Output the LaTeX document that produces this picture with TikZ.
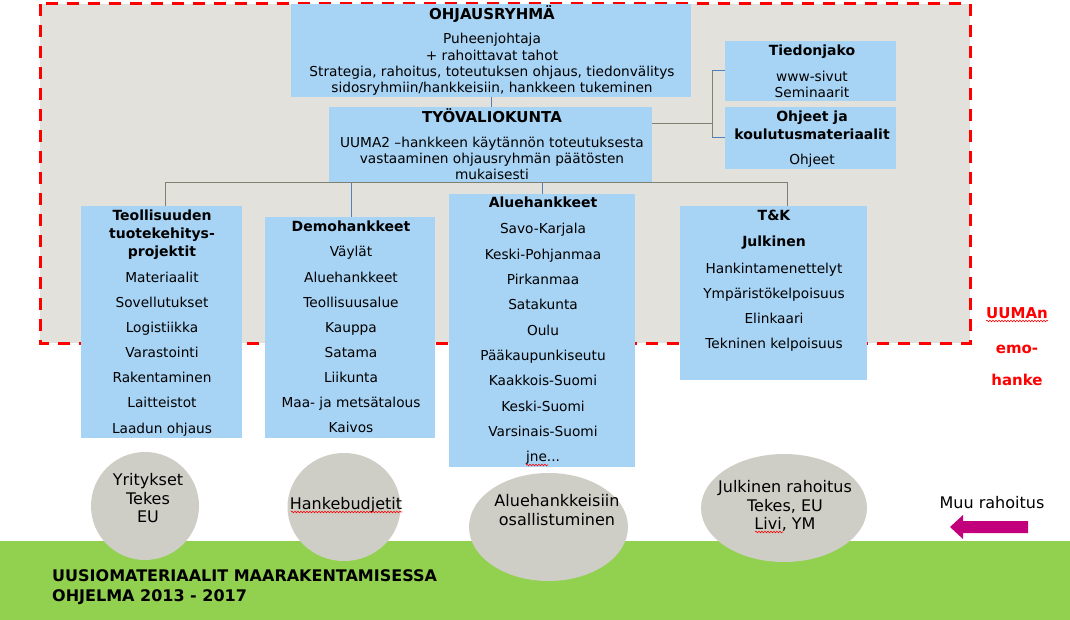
\documentclass[tikz,border=0pt]{standalone}
\usepackage{fontspec}
\setmainfont{DejaVu Sans}
\usetikzlibrary{shapes.geometric,decorations.pathmorphing}
\definecolor{boxblue}{HTML}{A7D3F4}
\definecolor{areagray}{HTML}{E2E1DC}
\definecolor{ellgray}{HTML}{CFCEC6}
\definecolor{grassgreen}{HTML}{92D050}
\definecolor{linegray}{HTML}{808070}
\definecolor{lineblue}{HTML}{4F81BD}
\definecolor{arrowmag}{HTML}{C3007B}
\definecolor{emored}{HTML}{FF0000}
\begin{document}
\begin{tikzpicture}[x=1pt,y=-1pt,
  box/.style={fill=boxblue, inner sep=0pt, outer sep=0pt},
  ell/.style={ellipse, fill=ellgray, inner sep=0pt, outer sep=0pt},
  txt/.style={inner sep=0pt, anchor=base, font=\fontsize{13.7}{16}\selectfont},
  ttl/.style={inner sep=0pt, anchor=base, font=\fontsize{14}{18}\selectfont\bfseries},
  capttl/.style={ttl, font=\fontsize{15}{18}\selectfont\bfseries},
  big/.style={inner sep=0pt, anchor=base, font=\fontsize{16}{19}\selectfont},
  redtxt/.style={inner sep=0pt, anchor=base, text=emored, font=\fontsize{15}{18}\selectfont\bfseries},
  progtxt/.style={inner sep=0pt, anchor=base west, font=\fontsize{16}{19}\selectfont\bfseries},
  gl/.style={draw=linegray, line width=1pt},
  bl/.style={draw=lineblue, line width=1pt},
  wavy/.style={draw=emored, line width=0.6pt, decorate, decoration={snake, segment length=3pt, amplitude=0.8pt}}
]
\useasboundingbox (0,0) rectangle (1070,620);
\fill[white] (0,0) rectangle (1070,620);

% parent project area
\fill[areagray] (40,4) rectangle (970,343);
\draw[emored, line width=3pt, dash pattern=on 12pt off 9pt] (40,4) rectangle (970,343);

% ground
\fill[grassgreen] (0,541) rectangle (1070,620);

% boxes
\node[box, minimum width=400pt, minimum height=93pt] (ohj) at (491,50.5) {};
\node[box, minimum width=323pt, minimum height=76pt] (tyo) at (490.5,145) {};
\node[box, minimum width=171pt, minimum height=60pt] (tied) at (810.5,71) {};
\node[box, minimum width=171pt, minimum height=62pt] (ohj2) at (810.5,138) {};
\node[box, minimum width=161pt, minimum height=232pt] (teol) at (161.5,322) {};
\node[box, minimum width=170pt, minimum height=221pt] (demo) at (350,327.5) {};
\node[box, minimum width=186pt, minimum height=273pt] (alue) at (542,330.5) {};
\node[box, minimum width=187pt, minimum height=174pt] (tk) at (773.5,293) {};

% connectors
\draw[bl] (ohj.south) -- (ohj.south |- tyo.north);
\coordinate (jn) at (712,124);
\draw[gl] ([yshift=21pt]tyo.east) -- (jn);
\draw[gl] (jn |- tied.west) -- (jn |- ohj2.west);
\draw[bl] (jn |- tied.west) -- (tied.west);
\draw[bl] (jn |- ohj2.west) -- (ohj2.west);
\draw[gl] ([xshift=3.5pt]teol.north) -- ([xshift=3.5pt]teol.north |- tyo.south)
          -- ([xshift=13.5pt]tk.north |- tyo.south) -- ([xshift=13.5pt]tk.north);
\draw[bl] ([xshift=1pt]demo.north) -- ([xshift=1pt]demo.north |- tyo.south);
\draw[bl] (alue.north) -- (alue.north |- tyo.south);

% OHJAUSRYHMÄ
\node[capttl] (o1) at (492,19.5) {OHJAUSRYHMÄ};
\node[txt] (o2) at (492,44) {Puheenjohtaja};
\node[txt] (o3) at (492,61) {+ rahoittavat tahot};
\node[txt] (o4) at (492,77) {Strategia, rahoitus, toteutuksen ohjaus, tiedonvälitys};
\node[txt] (o5) at (492,93) {sidosryhmiin/hankkeisiin, hankkeen tukeminen};

% TYÖVALIOKUNTA
\node[capttl] (t1) at (492,122.5) {TYÖVALIOKUNTA};
\node[txt] (t2) at (492,148) {UUMA2 –hankkeen käytännön toteutuksesta};
\node[txt] (t3) at (492,164) {vastaaminen ohjausryhmän päätösten};
\node[txt] (t4) at (492,180) {mukaisesti};

% Tiedonjako / Ohjeet
\node[ttl] (d1) at (812,56) {Tiedonjako};
\node[txt] (d2) at (812,82) {www-sivut};
\node[txt] (d3) at (812,98) {Seminaarit};
\node[ttl] (j1) at (812,122) {Ohjeet ja};
\node[ttl] (j2) at (812,140) {koulutusmateriaalit};
\node[txt] (j3) at (812,165) {Ohjeet};

% Teollisuuden tuotekehitysprojektit
\node[ttl] (a1) at (162,221) {Teollisuuden};
\node[ttl] (a2) at (162,239) {tuotekehitys-};
\node[ttl] (a3) at (162,257) {projektit};
\foreach \t [count=\i from 0] in {Materiaalit,Sovellutukset,Logistiikka,Varastointi,Rakentaminen,Laitteistot,Laadun ohjaus}
  \node[txt] (ai\i) at (162,{282+25.17*\i}) {\t};

% Demohankkeet
\node[ttl] (b1) at (351,232) {Demohankkeet};
\foreach \t [count=\i from 0] in {Väylät,Aluehankkeet,Teollisuusalue,Kauppa,Satama,Liikunta,Maa- ja metsätalous,Kaivos}
  \node[txt] (bi\i) at (351,{257+25.14*\i}) {\t};

% Aluehankkeet
\node[ttl] (c1) at (543,208) {Aluehankkeet};
\foreach \t [count=\i from 0] in {Savo-Karjala,Keski-Pohjanmaa,Pirkanmaa,Satakunta,Oulu,Pääkaupunkiseutu,Kaakkois-Suomi,Keski-Suomi,Varsinais-Suomi}
  \node[txt] (ci\i) at (543,{234+25.3*\i}) {\t};
\node[txt] (ci9) at (543,461.7) {jne...};

% T&K
\node[ttl] (k1) at (774,221) {T\&K};
\node[ttl] (k2) at (774,247) {Julkinen};
\foreach \t [count=\i from 0] in {Hankintamenettelyt,Ympäristökelpoisuus,Elinkaari,Tekninen kelpoisuus}
  \node[txt] (ki\i) at (774,{273+25.3*\i}) {\t};

% UUMAn emo-hanke
\node[redtxt] (r1) at (1017,318) {UUMAn};
\node[redtxt] (r2) at (1017,353) {emo-};
\node[redtxt] (r3) at (1017,385) {hanke};

% funding ellipses
\node[ell, minimum width=108pt, minimum height=108pt] (e1) at (145,506) {};
\node[ell, minimum width=113pt, minimum height=108pt] (e2) at (344,507) {};
\node[ell, minimum width=159pt, minimum height=108pt] (e3) at (548.5,527) {};
\node[ell, minimum width=166pt, minimum height=108pt] (e4) at (784,508) {};

\node[big] (f1) at (148,485) {Yritykset};
\node[big] (f2) at (148,504) {Tekes};
\node[big] (f3) at (148,522) {EU};
\node[big] (g1) at (346,509) {Hankebudjetit};
\node[big] (h1) at (557,506) {Aluehankkeisiin};
\node[big] (h2) at (557,525) {osallistuminen};
\node[big] (m1) at (785,492) {Julkinen rahoitus};
\node[big] (m2) at (785,511) {Tekes, EU};
\node[big] (m3) at (785,529) {Livi, YM};

% other funding arrow
\node[big] (mu) at (992,508) {Muu rahoitus};
\fill[arrowmag] (1028,521) -- (963,521) -- (963,515) -- (950,527) -- (963,539) -- (963,533) -- (1028,533) -- cycle;

% programme title
\node[progtxt] (p1) at (52,581) {UUSIOMATERIAALIT MAARAKENTAMISESSA};
\node[progtxt] (p2) at (52,601) {OHJELMA 2013 - 2017};

% spell-check marks
\draw[wavy] (986,321) -- (1048,321);
\draw[wavy] (526,465) -- (548,465);
\draw[wavy] (291,512) -- (402,512);
\draw[wavy] (755,532) -- (783,532);
\end{tikzpicture}
\end{document}
